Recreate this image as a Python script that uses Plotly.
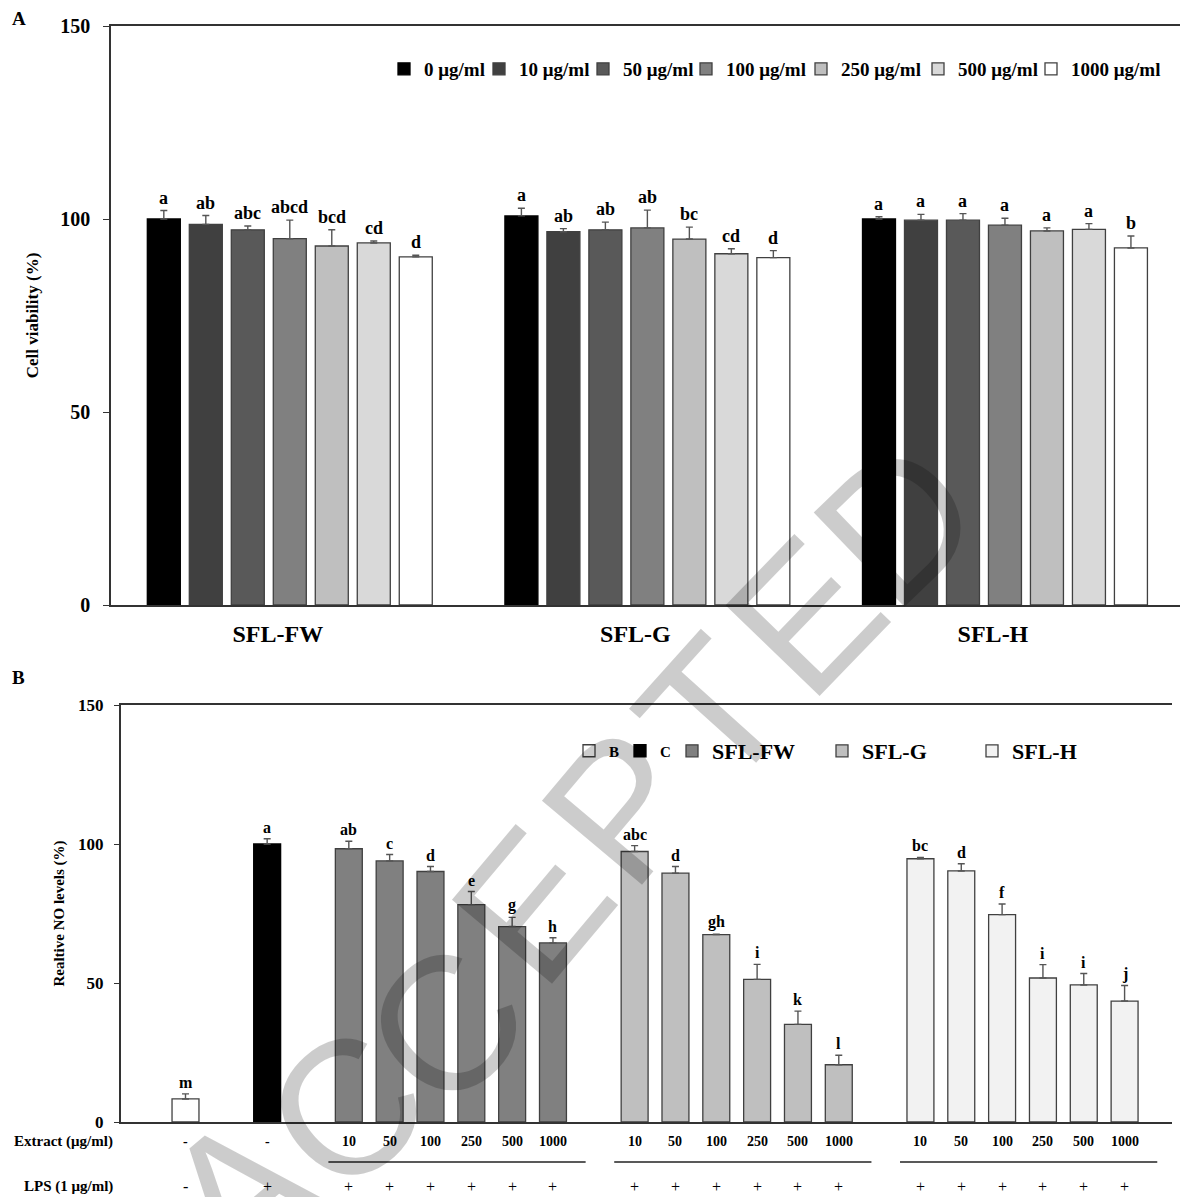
import plotly.graph_objects as go

SERIF = "Liberation Serif"

# ---------------- Panel A data ----------------
groups_a = ["SFL-FW", "SFL-G", "SFL-H"]
conc_names = ["0 μg/ml", "10 μg/ml", "50 μg/ml", "100 μg/ml", "250 μg/ml", "500 μg/ml", "1000 μg/ml"]
conc_colors = ["#000000", "#404040", "#595959", "#808080", "#bfbfbf", "#d9d9d9", "#ffffff"]

viab_fw = [100.0, 98.6, 97.2, 94.9, 93.0, 93.8, 90.2]
viab_fw_sd = [2.2, 2.3, 1.0, 4.8, 4.2, 0.5, 0.4]
viab_g = [100.8, 96.7, 97.2, 97.7, 94.8, 91.0, 90.0]
viab_g_sd = [2.0, 0.8, 2.0, 4.6, 3.1, 1.3, 1.8]
viab_h = [100.0, 99.7, 99.7, 98.4, 96.9, 97.3, 92.5]
viab_h_sd = [0.6, 1.5, 1.7, 1.8, 0.8, 1.5, 3.1]
letters_fw = ["a", "ab", "abc", "abcd", "bcd", "cd", "d"]
letters_g = ["a", "ab", "ab", "ab", "bc", "cd", "d"]
letters_h = ["a", "a", "a", "a", "a", "a", "b"]

# ---------------- Panel B data ----------------
b_names = ["B", "C", "SFL-FW", "SFL-G", "SFL-H"]
b_colors = ["#ffffff", "#000000", "#808080", "#bfbfbf", "#f2f2f2"]
b_slots = [[0], [2], [4, 5, 6, 7, 8, 9], [11, 12, 13, 14, 15, 16], [18, 19, 20, 21, 22, 23]]
no_vals = [[8.3], [100.0],
           [98.3, 93.9, 90.1, 78.2, 70.3, 64.4],
           [97.3, 89.5, 67.4, 51.3, 35.1, 20.6],
           [94.7, 90.3, 74.6, 51.8, 49.3, 43.5]]
no_sd = [[1.8], [1.9],
         [2.7, 2.3, 1.8, 4.7, 3.3, 1.9],
         [2.1, 2.4, 0.15, 5.4, 4.8, 3.4],
         [0.5, 2.6, 3.8, 4.8, 4.1, 5.6]]
no_letters = [["m"], ["a"],
              ["ab", "c", "d", "e", "g", "h"],
              ["abc", "d", "gh", "i", "k", "l"],
              ["bc", "d", "f", "i", "i", "j"]]
extract_labels = [["-"], ["-"],
                  ["10", "50", "100", "250", "500", "1000"],
                  ["10", "50", "100", "250", "500", "1000"],
                  ["10", "50", "100", "250", "500", "1000"]]
lps_labels = [["-"], ["+"], ["+"] * 6, ["+"] * 6, ["+"] * 6]

# watermark text of the source page
watermark_text = "ACCEPTED"

W, H = 1180, 1197
fig = go.Figure()

# legend placement (pixel centre of each legend swatch)
leg_a_px = [404, 499, 603, 706, 821, 938, 1051]
leg_a_y = 69
leg_b_px = [589, 640, 692, 842, 992]
leg_b_y = 751
leg_b_font = [15, 15, 22, 22, 22]

legend_layouts = {}


def legend_key(n):
    return "legend" if n == 1 else "legend%d" % n


# ---- Panel A bars ----
viab_all = [viab_fw, viab_g, viab_h]
sd_all = [viab_fw_sd, viab_g_sd, viab_h_sd]
let_all = [letters_fw, letters_g, letters_h]
for i, name in enumerate(conc_names):
    ys = [viab_all[g][i] for g in range(3)]
    es = [sd_all[g][i] for g in range(3)]
    lk = legend_key(i + 1)
    fig.add_trace(go.Bar(
        x=groups_a, y=ys, name=name, xaxis="x", yaxis="y", legend=lk,
        marker=dict(color=conc_colors[i], line=dict(color="#000000" if i == 0 else "#404040", width=1.3)),
        error_y=dict(type="data", array=es, arrayminus=[0] * 3, symmetric=False,
                     color="#555555", thickness=1.4, width=3.5),
    ))
    legend_layouts[lk] = dict(orientation="h", x=(leg_a_px[i] - 20) / W, xanchor="left",
                              y=1 - leg_a_y / H, yanchor="middle", bgcolor="rgba(0,0,0,0)",
                              itemwidth=30, borderwidth=0,
                              font=dict(family=SERIF, size=19, color="black", weight="bold"))

BARGAP_A = 0.178
slot_a = (1 - BARGAP_A) / 7
annotations = []
for g in range(3):
    for i in range(7):
        annotations.append(dict(
            x=g + (i - 3) * slot_a, y=viab_all[g][i] + sd_all[g][i], xref="x", yref="y",
            text=let_all[g][i], showarrow=False, yanchor="bottom", yshift=1,
            font=dict(family=SERIF, size=18, color="black", weight="bold")))

# ---- Panel B bars ----
BW = 0.66
for k, name in enumerate(b_names):
    lk = legend_key(8 + k)
    fig.add_trace(go.Bar(
        x=b_slots[k], y=no_vals[k], name=name,
        xaxis="x2", yaxis="y2", legend=lk,
        width=BW, offset=-BW / 2,
        marker=dict(color=b_colors[k], line=dict(color="#000000" if k == 1 else "#404040", width=1.3)),
        error_y=dict(type="data", array=no_sd[k], arrayminus=[0] * len(no_sd[k]), symmetric=False,
                     color="#555555", thickness=1.4, width=3.5),
    ))
    legend_layouts[lk] = dict(orientation="h", x=(leg_b_px[k] - 20) / W, xanchor="left",
                              y=1 - leg_b_y / H, yanchor="middle", bgcolor="rgba(0,0,0,0)",
                              itemwidth=30, borderwidth=0,
                              font=dict(family=SERIF, size=leg_b_font[k], color="black", weight="bold"))
    for j, s in enumerate(b_slots[k]):
        annotations.append(dict(
            x=s, y=no_vals[k][j] + no_sd[k][j], xref="x2", yref="y2",
            text=no_letters[k][j], showarrow=False, yanchor="bottom", yshift=1,
            font=dict(family=SERIF, size=16, color="black", weight="bold")))

# Domains / ranges
xa_dom = [111 / W, 1.0]
xa_rng = [-0.5, (1180 - 290) / 357.5]
ya_dom = [1 - 605 / H, 1 - 26 / H]
xb_px = [120.7, 1172]
xb_dom = [xb_px[0] / W, xb_px[1] / W]
xb_rng = [(xb_px[0] - 185.5) / 40.83, (xb_px[1] - 185.5) / 40.83]
yb_dom = [1 - 1122 / H, 1 - 705 / H]


def slot_to_paper(s):
    return xb_dom[0] + (s - xb_rng[0]) / (xb_rng[1] - xb_rng[0]) * (xb_dom[1] - xb_dom[0])


# Extract / LPS rows
y_ext = 1 - 1141 / H
y_lps = 1 - 1186 / H
y_line = 1 - 1162 / H
for k in range(len(b_names)):
    for j, s in enumerate(b_slots[k]):
        annotations.append(dict(x=s, y=y_ext, xref="x2", yref="paper", text=extract_labels[k][j],
                                showarrow=False, yanchor="middle",
                                font=dict(family=SERIF, size=14, color="black", weight="bold")))
        annotations.append(dict(x=s, y=y_lps, xref="x2", yref="paper", text=lps_labels[k][j],
                                showarrow=False, yanchor="middle",
                                font=dict(family=SERIF, size=16, color="#000000")))
annotations.append(dict(x=115 / W, y=y_ext, xref="paper", yref="paper", text="Extract (μg/ml)",
                        showarrow=False, xanchor="right", yanchor="middle",
                        font=dict(family=SERIF, size=15, color="black", weight="bold")))
annotations.append(dict(x=115 / W, y=y_lps, xref="paper", yref="paper", text="LPS (1 μg/ml)",
                        showarrow=False, xanchor="right", yanchor="middle",
                        font=dict(family=SERIF, size=15, color="black", weight="bold")))

shapes = []
for k in (2, 3, 4):
    s0, s1 = b_slots[k][0] - 0.5, b_slots[k][-1] + 0.8
    shapes.append(dict(type="line", xref="paper", yref="paper",
                       x0=slot_to_paper(s0), x1=min(slot_to_paper(s1), 1.0), y0=y_line, y1=y_line,
                       line=dict(color="#222222", width=1.6)))

# Panel letters
annotations.append(dict(x=10 / W, y=1 - 18 / H, xref="paper", yref="paper", text="A", showarrow=False,
                        xanchor="left", yanchor="middle",
                        font=dict(family=SERIF, size=19, color="black", weight="bold")))
annotations.append(dict(x=10 / W, y=1 - 677 / H, xref="paper", yref="paper", text="B", showarrow=False,
                        xanchor="left", yanchor="middle",
                        font=dict(family=SERIF, size=19, color="black", weight="bold")))

# Watermark letters placed along an arc (page decoration)
wm_px = [(238, 1192), (345, 1110), (445, 1026), (532, 905), (622, 806), (713, 712), (805, 616), (897, 522)]
wm_angle = [-40, -42, -46, -50, -50, -48, -46, -44]
for ch, (px, py), ang in zip(watermark_text, wm_px, wm_angle):
    annotations.append(dict(x=px / W, y=1 - py / H, xref="paper", yref="paper", text=ch,
                            showarrow=False, xanchor="center", yanchor="middle", textangle=ang,
                            font=dict(family="Liberation Sans", size=190, color="rgba(0,0,0,0.2)")))

axis_line = dict(showline=True, linecolor="#333333", linewidth=1.5, showgrid=False, zeroline=False,
                 automargin=False)

fig.update_layout(
    width=W, height=H, margin=dict(l=0, r=0, t=0, b=0, pad=0, autoexpand=False),
    paper_bgcolor="white", plot_bgcolor="white",
    barmode="group", bargap=BARGAP_A, bargroupgap=0.214,
    showlegend=True,
    xaxis=dict(domain=xa_dom, range=xa_rng, anchor="y", mirror=True, ticks="",
               tickfont=dict(family=SERIF, size=24, color="black", weight="bold"),
               ticklabelstandoff=6, ticklabelshift=-12, **axis_line),
    yaxis=dict(domain=ya_dom, range=[0, 150], anchor="x", tickvals=[0, 50, 100, 150],
               ticks="outside", ticklen=6, tickcolor="#333333", tickwidth=1.3,
               ticklabelstandoff=9,
               tickfont=dict(family=SERIF, size=20, color="black", weight="bold"),
               title=dict(text="Cell viability (%)", standoff=17,
                          font=dict(family=SERIF, size=17, color="black", weight="bold")),
               **axis_line),
    xaxis2=dict(domain=xb_dom, range=xb_rng, anchor="y2", mirror=True, ticks="",
                showticklabels=False, **axis_line),
    yaxis2=dict(domain=yb_dom, range=[0, 150], anchor="x2", tickvals=[0, 50, 100, 150],
                ticks="outside", ticklen=5, tickcolor="#333333", tickwidth=1.3,
                ticklabelstandoff=7,
                tickfont=dict(family=SERIF, size=17, color="black", weight="bold"),
                title=dict(text="Realtive NO levels (%)", standoff=10,
                           font=dict(family=SERIF, size=15, color="black", weight="bold")),
                **axis_line),
    annotations=annotations, shapes=shapes,
    **legend_layouts,
)

fig.write_html("out.html", config={"displayModeBar": False},
               post_script="document.body.style.margin='0px';document.body.style.padding='0px';"
                           "document.body.style.overflow='hidden';")
